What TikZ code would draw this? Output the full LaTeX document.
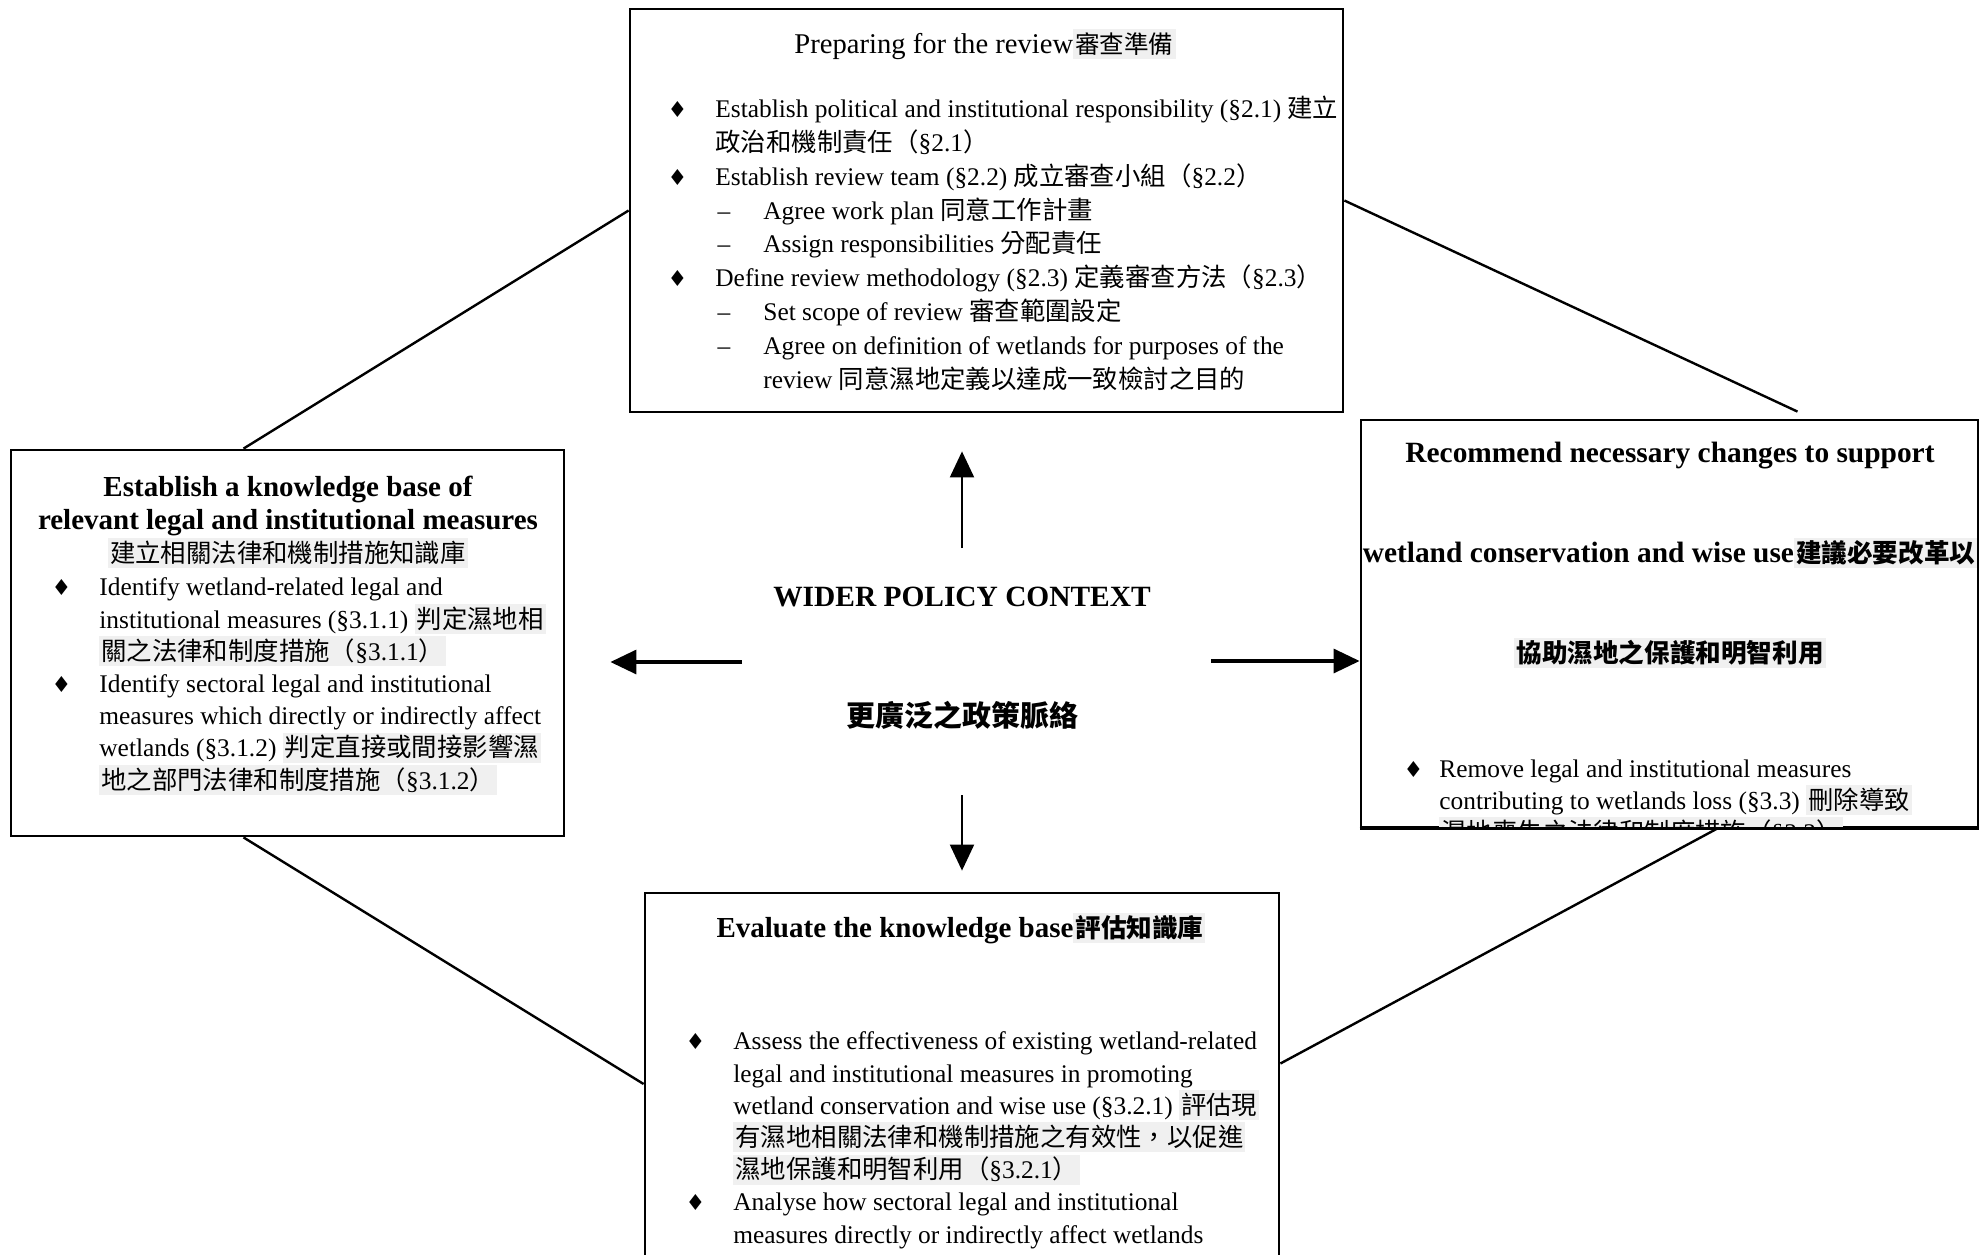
\documentclass[tikz,border=0pt]{standalone}
\usepackage{fontspec}
\setmainfont{Liberation Serif}
\newfontfamily\zhfont{Noto Sans CJK TC}
\newfontfamily\dingfont{DejaVu Sans}
\usepackage{xcolor}
\usetikzlibrary{arrows.meta, calc}
\definecolor{zhgrey}{gray}{0.94}

\newcommand{\zh}[1]{{\zhfont #1}}
\newcommand{\zhg}[2][12.7]{{\setlength{\fboxsep}{1pt}\colorbox{zhgrey}{\zhfont\mdseries\fontsize{#1}{15}\selectfont\rule[-2pt]{0pt}{13pt}#2}}}
\newcommand{\zhgb}[2][12.8]{{\setlength{\fboxsep}{1pt}\colorbox{zhgrey}{\zhfont\bfseries\fontsize{#1}{15}\selectfont\rule[-2pt]{0pt}{13pt}#2}}}
\newcommand{\sect}[1]{{\rmfamily §#1}}
\newcommand{\bul}[1][14pt]{\llap{{\dingfont\fontsize{11}{11}\selectfont ♦}\hspace{#1}}}
\newcommand{\dsh}{\hspace*{24pt}\llap{–\hspace{16.5pt}}}

\begin{document}
\begin{tikzpicture}[
    x=0.5pt, y=-0.5pt,
    stagebox/.style={rectangle, draw=black, line width=1.4pt, fill=white, inner sep=0pt},
    headline/.style={anchor=base, align=center, inner sep=0pt, font=\bfseries\fontsize{14.5}{16.5}\selectfont},
    bodytext/.style={anchor=base west, align=left, inner sep=0pt, font=\fontsize{12.7}{16.1}\selectfont},
    ctxlabel/.style={anchor=center, inner sep=0pt},
    link/.style={draw=black, line width=1.2pt},
    thinarr/.style={draw=black, line width=1pt, -{Triangle[length=13pt, width=12pt]}},
    thickarr/.style={draw=black, line width=1.6pt, -{Triangle[length=13pt, width=12pt]}}
]
    \path[use as bounding box, clip] (0,0) rectangle (1988,1254);

    % Stage boxes round the policy context
    \node (prep) at (986.5, 210.5) [stagebox, minimum width=356.5pt, minimum height=201.5pt] {};
    \node (know) at (287.5, 643) [stagebox, minimum width=276.5pt, minimum height=193pt] {};
    \node (rec) at (1669.5, 623.5) [stagebox, minimum width=308.5pt, minimum height=203.5pt] {};
    \node (eval) at (962, 1091.5) [stagebox, minimum width=317pt, minimum height=198.5pt] {};

    % Links between the stages
    \draw [link] (prep.west) -- ([xshift=-22pt]know.north);
    \draw [link] ([yshift=5pt]prep.east) -- ([xshift=64pt, yshift=3.5pt]rec.north);
    \draw [link] ([xshift=-22pt]know.south) -- ([yshift=3.75pt]eval.west);
    \draw [link] ([xshift=24pt]rec.south) -- ([yshift=14pt]eval.east);

    % Preparing for the review (multi-line nodes sit on their last baseline)
    \node (preptitle) at (985, 53) [anchor=base, inner sep=0pt, font=\fontsize{14.3}{17}\selectfont] {Preparing for the review\zhg[12.3]{審查準備}};
    \node (prepbody) at (715, 388) [bodytext, font=\fontsize{12.7}{16.9}\selectfont] {%
        \bul Establish political and institutional responsibility (§2.1) \zh{建立}\\
        \zh{政治和機制責任（\sect{2.1}）}\\
        \bul Establish review team (§2.2) \zh{成立審查小組（\sect{2.2}）}\\
        \dsh Agree work plan \zh{同意工作計畫}\\
        \dsh Assign responsibilities \zh{分配責任}\\
        \bul Define review methodology (§2.3) \zh{定義審查方法（\sect{2.3}）}\\
        \dsh Set scope of review \zh{審查範圍設定}\\
        \dsh Agree on definition of wetlands for purposes of the\\
        \hspace*{24pt}review \zh{同意濕地定義以達成一致檢討之目的}};

    % Knowledge base
    \node (knowtitle) at (288, 562) [headline] {Establish a knowledge base of\\relevant legal and institutional measures\\\zhg{建立相關法律和機制措施知識庫}};
    \node (knowbody) at (99, 789) [bodytext] {%
        \bul Identify wetland-related legal and\\
        institutional measures (§3.1.1) \zhg{判定濕地相}\\
        \zhg{關之法律和制度措施（\sect{3.1.1}）}\\
        \bul Identify sectoral legal and institutional\\
        measures which directly or indirectly affect\\
        wetlands (§3.1.2) \zhg{判定直接或間接影響濕}\\
        \zhg{地之部門法律和制度措施（\sect{3.1.2}）}};

    % Recommendations
    \node (rectitle) at (1670, 662) [headline, font=\bfseries\fontsize{14.7}{49.8}\selectfont] {Recommend necessary changes to support\\wetland conservation and wise use\zhgb{建議必要改革以}\\\zhgb{協助濕地之保護和明智利用}};
    \begin{scope}
        \clip (rec.south west) rectangle (rec.north east);
        \node (recbody) at (1439, 841) [bodytext, font=\fontsize{12.7}{15.8}\selectfont] {%
            \bul[8pt]Remove legal and institutional measures\\
            contributing to wetlands loss (§3.3) \zhg{刪除導致}\\
            \zhg{濕地喪失之法律和制度措施（\sect{3.3}）}};
    \end{scope}
    \draw [line width=1.4pt] (rec.south west) -- (rec.south east);

    % Evaluation
    \node (evaltitle) at (961, 937) [headline] {Evaluate the knowledge base\zhgb{評估知識庫}};
    \node (evalbody) at (733, 1243) [bodytext] {%
        \bul Assess the effectiveness of existing wetland-related\\
        legal and institutional measures in promoting\\
        wetland conservation and wise use (§3.2.1) \zhg{評估現}\\
        \zhg{有濕地相關法律和機制措施之有效性，以促進}\\
        \zhg{濕地保護和明智利用（\sect{3.2.1}）}\\
        \bul Analyse how sectoral legal and institutional\\
        measures directly or indirectly affect wetlands};

    % Wider policy context and its arrows
    \node (ctxen) at (962, 597) [ctxlabel, font=\bfseries\fontsize{14.7}{17}\selectfont] {WIDER POLICY CONTEXT};
    \node (ctxzh) at (962, 715) [ctxlabel, font=\zhfont\bfseries\fontsize{14.5}{17}\selectfont] {更廣泛之政策脈絡};

    \coordinate (toprep) at (962, 548);
    \coordinate (toknow) at (742, 662);
    \coordinate (torec) at (1211, 661);
    \coordinate (toeval) at (962, 795);
    \draw [thinarr, shorten >=19pt] (toprep) -- (toprep |- prep.south);
    \draw [thickarr, shorten >=22.5pt] (toknow) -- (toknow -| know.east);
    \draw [thickarr] (torec) -- (torec -| rec.west);
    \draw [thinarr, shorten >=10.5pt] (toeval) -- (toeval |- eval.north);

\end{tikzpicture}
\end{document}
